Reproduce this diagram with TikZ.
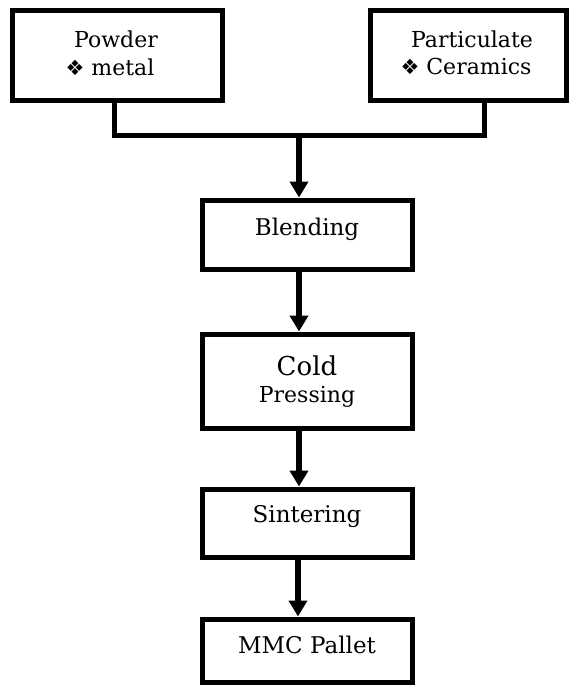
\documentclass[tikz,border=0pt]{standalone}
\usepackage{fontspec}
\setmainfont{DejaVu Serif}
\newfontfamily\symfont{DejaVu Sans}
\usetikzlibrary{arrows.meta}
\newcommand{\dia}{{\symfont\fontsize{21}{21}\selectfont ❖}}
\begin{document}
\begin{tikzpicture}[x=1pt,y=-1pt,
  box/.style={draw, line width=5pt, inner sep=0pt, minimum width=#1},
  box/.default=210pt,
  lbl/.style={inner sep=0pt, anchor=base, font=\fontsize{23}{28}\selectfont},
  tlbl/.style={inner sep=0pt, anchor=base, font=\fontsize{22}{28}\selectfont},
  conn/.style={line width=5pt},
  arr/.style={line width=6pt, -{Triangle[length=16pt,width=18pt]}}]
\useasboundingbox (0,0) rectangle (570,686);
% top boxes
\node[box=210pt, minimum height=90pt] (powder) at (117,55) {};
\node[box=196pt, minimum height=90pt] (part) at (468,55) {};
\node[tlbl] (powdert) at (116,47) {Powder};
\node[tlbl] (metalt) at (110,75) {\dia\ metal};
\node[tlbl] (partt) at (472,47) {Particulate};
\node[tlbl] (cert) at (466,74) {\dia\ Ceramics};
% process boxes
\node[box, minimum height=69pt] (blend) at (307,234.5) {};
\node[lbl] (blendt) at (307,235) {Blending};
\node[box, minimum height=94pt] (cold) at (307,381) {};
\node[lbl, font=\fontsize{26}{28}\selectfont] (coldt) at (307,375) {Cold};
\node[lbl, font=\fontsize{22}{28}\selectfont] (presst) at (307,402) {Pressing};
\node[box, minimum height=68pt] (sint) at (307,523) {};
\node[lbl] (sintt) at (307,522) {Sintering};
\node[box, minimum height=63pt] (mmc) at (307,650.5) {};
\node[lbl] (mmct) at (307,653) {MMC Pallet};
% connectors
\coordinate (j) at (299,135);
\draw[conn] (powder.south -| 114,0) |- (j) -| (part.south -| 484,0);
\draw[arr] (j) -- (j |- blend.north);
\draw[arr] (blend.south -| j) -- (cold.north -| j);
\draw[arr] (cold.south -| j) -- (sint.north -| j);
\draw[arr] (sint.south -| 298,0) -- (mmc.north -| 298,0);
\end{tikzpicture}
\end{document}
